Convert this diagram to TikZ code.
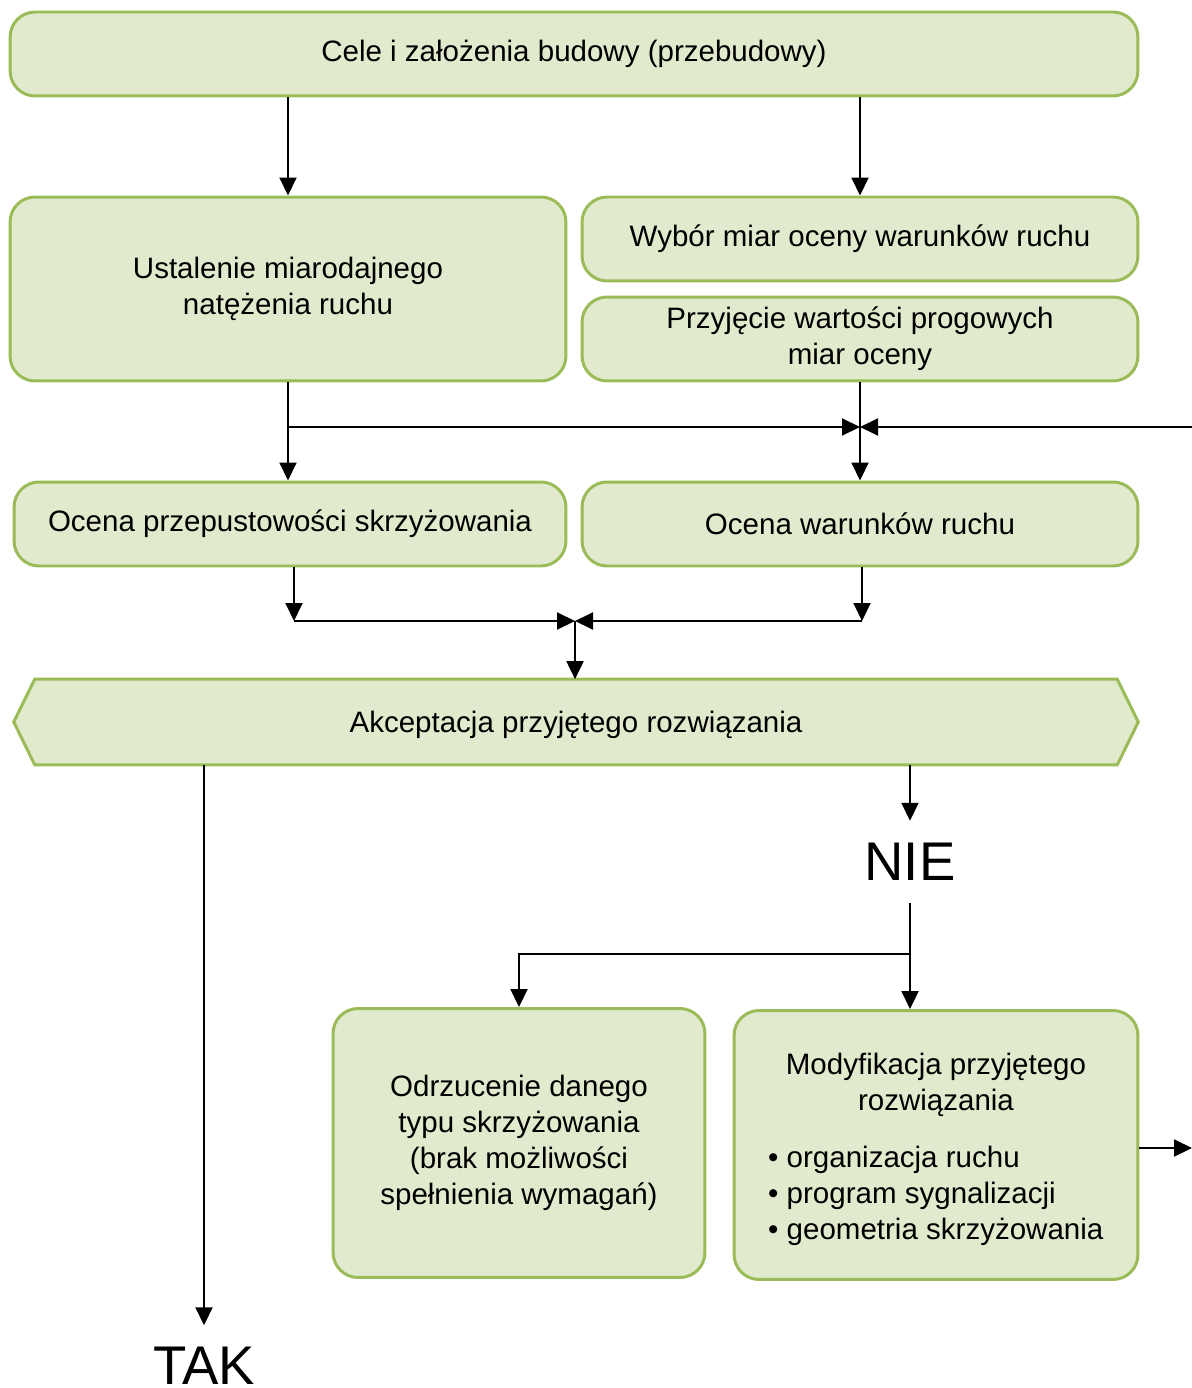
\documentclass[tikz,border=0pt]{standalone}
\usepackage{fontspec}
\setmainfont{Liberation Sans}
\usetikzlibrary{arrows.meta}

\definecolor{boxfill}{HTML}{E1EACD}
\definecolor{boxline}{HTML}{9BBB59}

\tikzset{
    box/.style={draw=boxline, fill=boxfill, line width=1.7pt, rounded corners=0.5cm,
        align=center, font=\fontsize{16.8pt}{20.5pt}\selectfont},
    arr/.style={-{Triangle[length=0.36cm, width=0.34cm]}, line width=1.1pt},
    bigword/.style={font=\fontsize{31pt}{36pt}\selectfont, inner sep=0pt}
}

\begin{document}
\begin{tikzpicture}[x=0.02cm, y=-0.02cm]
    \useasboundingbox (0,0) rectangle (1192,1388);

    % bloki gorne
    \node[box, minimum width=22.56cm, minimum height=1.68cm] (cele) at (574,54) {Cele i założenia budowy (przebudowy)};
    \node[box, minimum width=11.12cm, minimum height=3.68cm] (ust) at (288,289) {Ustalenie miarodajnego\\natężenia ruchu};
    \node[box, minimum width=11.12cm, minimum height=1.68cm] (wyb) at (860,239) {Wybór miar oceny warunków ruchu};
    \node[box, minimum width=11.12cm, minimum height=1.68cm] (prz) at (860,339) {Przyjęcie wartości progowych\\miar oceny};

    % oceny
    \node[box, minimum width=11.04cm, minimum height=1.68cm] (oprz) at (290,524) {Ocena przepustowości skrzyżowania};
    \node[box, minimum width=11.12cm, minimum height=1.68cm] (owar) at (860,524) {Ocena warunków ruchu};

    % akceptacja (szesciokat)
    \node[minimum width=22.48cm, minimum height=1.7cm, inner sep=0pt] (akc) at (576,722) {};
    \draw[draw=boxline, fill=boxfill, line width=1.7pt]
        (akc.west) -- ([xshift=0.42cm]akc.north west) -- ([xshift=-0.42cm]akc.north east)
        -- (akc.east) -- ([xshift=-0.42cm]akc.south east) -- ([xshift=0.42cm]akc.south west) -- cycle;
    \node[font=\fontsize{16.8pt}{20.5pt}\selectfont] at ([yshift=-0.05cm]akc.center) {Akceptacja przyjętego rozwiązania};

    % TAK / NIE
    \node[bigword, outer sep=0.45cm] (nie) at (910,862) {NIE};
    \node[bigword, outer sep=0.44cm] (tak) at (204,1366) {TAK};

    % bloki dolne
    \node[box, minimum width=7.44cm, minimum height=5.38cm] (odr) at (519,1143) {Odrzucenie danego\\typu skrzyżowania\\(brak możliwości\\spełnienia wymagań)};
    \node[box, minimum width=8.08cm, minimum height=5.38cm] (mod) at (936,1145) {};
    \node[align=center, font=\fontsize{16.8pt}{20.5pt}\selectfont] (modt) at (936,1085) {Modyfikacja przyjętego\\rozwiązania};
    \node[align=left, anchor=west, font=\fontsize{16.8pt}{20.5pt}\selectfont] (modl) at (762,1196) {• organizacja ruchu\\• program sygnalizacji\\• geometria skrzyżowania};

    % punkty pomocnicze
    \coordinate (j1) at (288,427);
    \coordinate (fb) at (1192,427);
    \coordinate (m1) at (294,621);
    \coordinate (m2) at (862,621);
    \coordinate (m) at (575,621);
    \coordinate (j2) at (910,954);
    \coordinate (out) at (1192,1148);

    % strzalki
    \draw[arr] (cele.south -| ust.north) -- (ust.north);
    \draw[arr] (cele.south -| wyb.north) -- (wyb.north);
    \draw[arr] (ust.south) -- (ust.south |- oprz.north);
    \draw[arr] (j1) -- (j1 -| prz.south);
    \draw[arr] (fb) -- (fb -| prz.south);
    \draw[arr] (prz.south) -- (owar.north);
    \draw[arr] (oprz.south -| m1) -- (m1);
    \draw[arr] (m1) -- (m);
    \draw[arr] (owar.south -| m2) -- (m2);
    \draw[arr] (m2) -- (m);
    \draw[arr] (m) -- (m |- akc.north);
    \draw[arr] (akc.south -| tak.north) -- (tak.north);
    \draw[arr] (akc.south -| nie.north) -- (nie.north);
    \draw[arr] (nie.south) -- (nie.south |- mod.north);
    \draw[arr] (j2) -| (odr.north);
    \draw[arr] (mod.east |- out) -- (out);
\end{tikzpicture}
\end{document}
